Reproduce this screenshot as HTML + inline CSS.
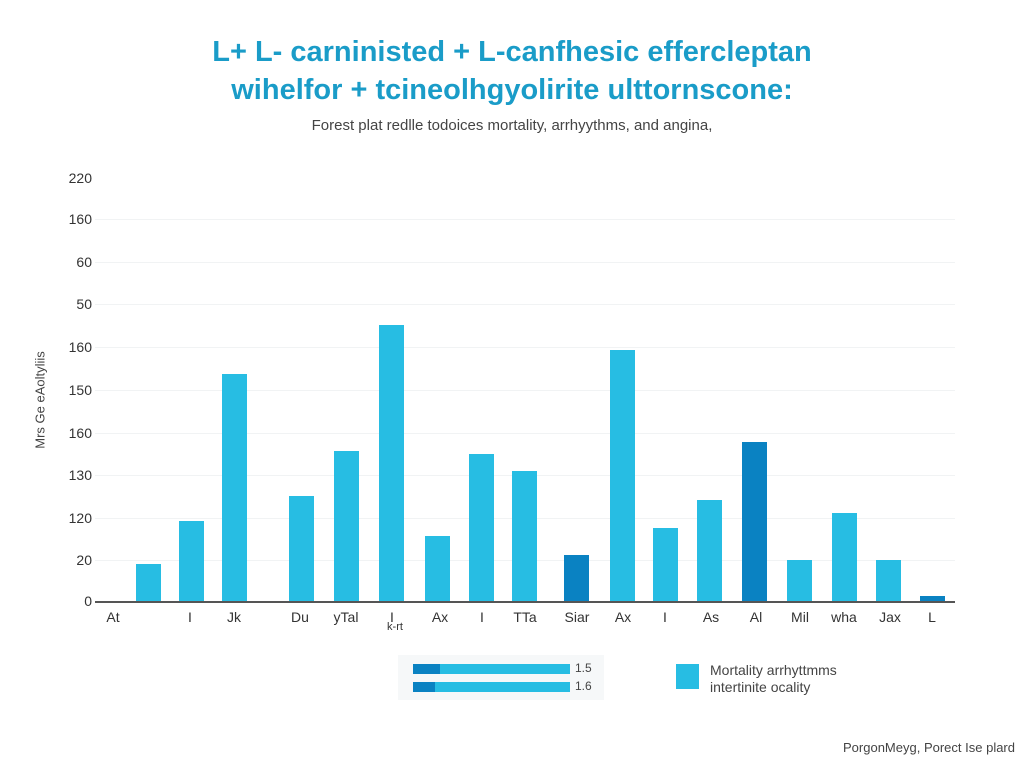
<!DOCTYPE html>
<html><head><style>
body{margin:0;width:1024px;height:768px;background:#fff;position:relative;overflow:hidden;font-family:"Liberation Sans",sans-serif}
.a{position:absolute;white-space:nowrap}
.t{left:0;width:1024px;text-align:center;color:#1a9cc8;font-size:29px;font-weight:bold}
.yl{width:50px;text-align:right;left:42px;font-size:14px;color:#333}
.g{left:95px;width:860px;height:1px;background:#f1f3f4}
.b{width:25px;background:#27bde3}
.d{background:#0a82c2}
.xl{font-size:14px;color:#333;transform:translateX(-50%)}
</style></head><body>
<div class="a t" style="top:36px">L+ L- carninisted + L-canfhesic effercleptan</div>
<div class="a t" style="top:74px">wihelfor + tcineolhgyolirite ulttornscone:</div>
<div class="a" style="top:117px;left:0;width:1024px;text-align:center;font-size:15px;color:#444">Forest plat redlle todoices mortality, arrhyythms, and angina,</div>
<div class="a" style="left:22px;top:400px;transform:translate(-50%,-50%) rotate(-90deg);left:40px;font-size:13px;color:#444">Mrs Ge eAoltyliis</div>

<div class="a g" style="top:219px"></div><div class="a g" style="top:262px"></div><div class="a g" style="top:304px"></div><div class="a g" style="top:347px"></div><div class="a g" style="top:390px"></div><div class="a g" style="top:433px"></div><div class="a g" style="top:475px"></div><div class="a g" style="top:518px"></div><div class="a g" style="top:560px"></div>

<div class="a yl" style="top:170px">220</div>
<div class="a yl" style="top:211px">160</div>
<div class="a yl" style="top:254px">60</div>
<div class="a yl" style="top:296px">50</div>
<div class="a yl" style="top:339px">160</div>
<div class="a yl" style="top:382px">150</div>
<div class="a yl" style="top:425px">160</div>
<div class="a yl" style="top:467px">130</div>
<div class="a yl" style="top:510px">120</div>
<div class="a yl" style="top:552px">20</div>
<div class="a yl" style="top:593px">0</div>

<div class="a b" style="left:136px;top:564px;height:37px"></div>
<div class="a b" style="left:179px;top:521px;height:80px"></div>
<div class="a b" style="left:222px;top:374px;height:227px"></div>
<div class="a b" style="left:289px;top:496px;height:105px"></div>
<div class="a b" style="left:334px;top:451px;height:150px"></div>
<div class="a b" style="left:379px;top:325px;height:276px"></div>
<div class="a b" style="left:425px;top:536px;height:65px"></div>
<div class="a b" style="left:469px;top:454px;height:147px"></div>
<div class="a b" style="left:512px;top:471px;height:130px"></div>
<div class="a b d" style="left:564px;top:555px;height:46px"></div>
<div class="a b" style="left:610px;top:350px;height:251px"></div>
<div class="a b" style="left:653px;top:528px;height:73px"></div>
<div class="a b" style="left:697px;top:500px;height:101px"></div>
<div class="a b d" style="left:742px;top:442px;height:159px"></div>
<div class="a b" style="left:787px;top:560px;height:41px"></div>
<div class="a b" style="left:832px;top:513px;height:88px"></div>
<div class="a b" style="left:876px;top:560px;height:41px"></div>
<div class="a b d" style="left:920px;top:596px;height:5px"></div>
<div class="a" style="left:95px;top:601px;width:860px;height:2px;background:#555"></div>

<div class="a xl" style="left:113px;top:609px">At</div>
<div class="a xl" style="left:190px;top:609px">I</div>
<div class="a xl" style="left:234px;top:609px">Jk</div>
<div class="a xl" style="left:300px;top:609px">Du</div>
<div class="a xl" style="left:346px;top:609px">yTal</div>
<div class="a xl" style="left:392px;top:609px">I</div>
<div class="a xl" style="left:395px;top:621px;font-size:11px">k-rt</div>
<div class="a xl" style="left:440px;top:609px">Ax</div>
<div class="a xl" style="left:482px;top:609px">I</div>
<div class="a xl" style="left:525px;top:609px">TTa</div>
<div class="a xl" style="left:577px;top:609px">Siar</div>
<div class="a xl" style="left:623px;top:609px">Ax</div>
<div class="a xl" style="left:665px;top:609px">I</div>
<div class="a xl" style="left:711px;top:609px">As</div>
<div class="a xl" style="left:756px;top:609px">Al</div>
<div class="a xl" style="left:800px;top:609px">Mil</div>
<div class="a xl" style="left:844px;top:609px">wha</div>
<div class="a xl" style="left:890px;top:609px">Jax</div>
<div class="a xl" style="left:932px;top:609px">L</div>

<div class="a" style="left:398px;top:655px;width:206px;height:45px;background:#f6f8f9"></div>
<div class="a" style="left:413px;top:664px;width:157px;height:10px;background:#27bde3"></div>
<div class="a" style="left:413px;top:664px;width:27px;height:10px;background:#0a82c2"></div>
<div class="a" style="left:413px;top:682px;width:157px;height:10px;background:#27bde3"></div>
<div class="a" style="left:413px;top:682px;width:22px;height:10px;background:#0a82c2"></div>
<div class="a" style="left:575px;top:661px;font-size:12px;color:#444">1.5</div>
<div class="a" style="left:575px;top:679px;font-size:12px;color:#444">1.6</div>
<div class="a" style="left:676px;top:664px;width:23px;height:25px;background:#27bde3"></div>
<div class="a" style="left:710px;top:662px;font-size:14px;color:#444">Mortality arrhyttmms</div>
<div class="a" style="left:710px;top:679px;font-size:14px;color:#444">intertinite ocality</div>
<div class="a" style="right:9px;top:740px;font-size:13px;color:#444">PorgonMeyg, Porect Ise plard</div>
</body></html>
